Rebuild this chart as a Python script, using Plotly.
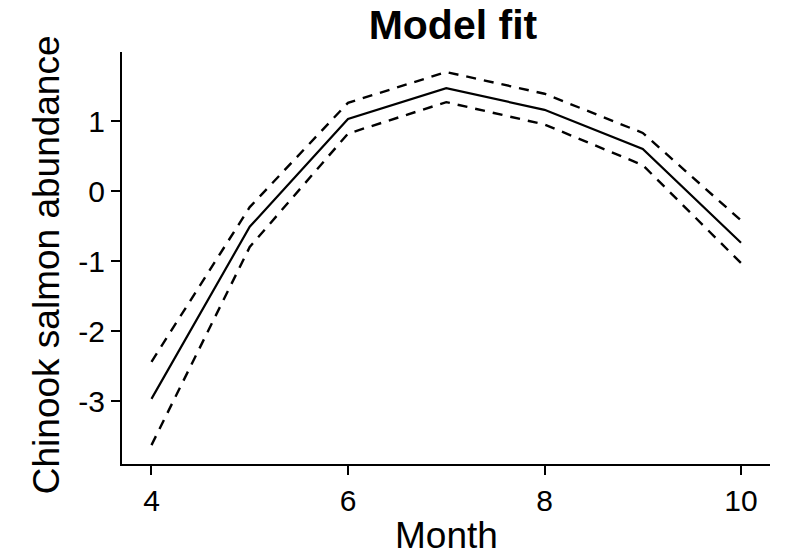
import plotly.graph_objects as go

# Fitted monthly abundance with upper/lower confidence bounds
months = [4, 5, 6, 7, 8, 9, 10]
fit = [-2.97, -0.51, 1.03, 1.47, 1.16, 0.60, -0.74]
upper = [-2.44, -0.23, 1.26, 1.70, 1.39, 0.83, -0.42]
lower = [-3.63, -0.80, 0.82, 1.27, 0.95, 0.37, -1.03]

x_ticks = [4, 6, 8, 10]
y_ticks = [-3, -2, -1, 0, 1]
y_tick_labels = ["-3", "-2", "-1", "0", "1"]

font_family = "Liberation Sans, Arial, sans-serif"

fig = go.Figure()
fig.add_trace(go.Scatter(x=months, y=upper, mode="lines",
                         line=dict(color="black", width=2.4, dash="10px,8px")))
fig.add_trace(go.Scatter(x=months, y=lower, mode="lines",
                         line=dict(color="black", width=2.4, dash="10px,8px")))
fig.add_trace(go.Scatter(x=months, y=fit, mode="lines",
                         line=dict(color="black", width=2.2)))

axis_common = dict(
    showgrid=False, zeroline=False, showline=True, linecolor="black",
    linewidth=2, ticks="outside", ticklen=9, tickwidth=2, tickcolor="black",
    tickfont=dict(family=font_family, size=30, color="black"),
    automargin=False,
)

title_font = dict(family=font_family, size=37, color="black")

fig.update_layout(
    width=785, height=554,
    margin=dict(l=122, r=15, t=52, b=90),
    paper_bgcolor="white", plot_bgcolor="white",
    showlegend=False,
    title=dict(text="<b>Model fit</b>", x=0.577, xanchor="center",
               y=0.955, yanchor="middle",
               font=dict(family=font_family, size=41, color="black")),
    xaxis=dict(range=[3.70, 10.295], tickvals=x_ticks, **axis_common),
    yaxis=dict(range=[-3.9, 1.986], tickvals=y_ticks, ticktext=y_tick_labels,
               **axis_common),
    annotations=[
        dict(text="Month", xref="paper", yref="paper", x=0.5, y=-0.174,
             xanchor="center", yanchor="middle", showarrow=False,
             font=title_font),
        dict(text="Chinook salmon abundance", xref="paper", yref="paper",
             x=-0.117, y=0.483, xanchor="center", yanchor="middle",
             textangle=-90, showarrow=False, font=title_font),
    ],
)

fig.write_html("out.html")
